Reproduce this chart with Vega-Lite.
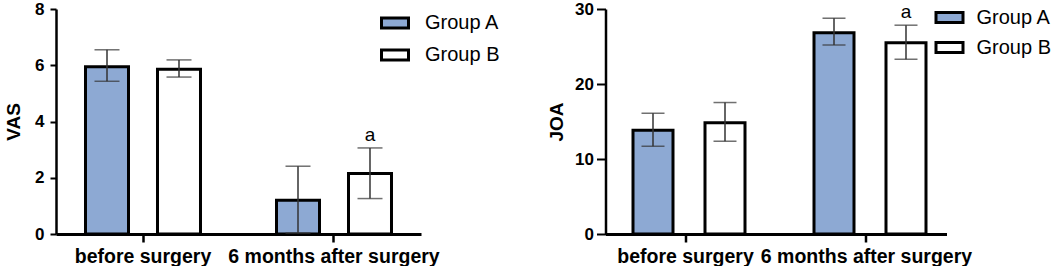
{
  "$schema": "https://vega.github.io/schema/vega-lite/v6.json",
  "padding": {"left": 4, "top": 0, "right": 0, "bottom": 0},
  "background": "white",
  "bounds": "flush",
  "spacing": 184.5,
  "datasets": {
    "d": [
      {"panel": "VAS", "time": "before surgery", "group": "Group A", "mean": 5.95, "lo": 5.43, "hi": 6.55, "sig": ""},
      {"panel": "VAS", "time": "before surgery", "group": "Group B", "mean": 5.86, "lo": 5.58, "hi": 6.19, "sig": ""},
      {"panel": "VAS", "time": "6 months after surgery", "group": "Group A", "mean": 1.2, "lo": 0.03, "hi": 2.41, "sig": ""},
      {"panel": "VAS", "time": "6 months after surgery", "group": "Group B", "mean": 2.15, "lo": 1.26, "hi": 3.06, "sig": "a"},
      {"panel": "JOA", "time": "before surgery", "group": "Group A", "mean": 13.85, "lo": 11.7, "hi": 16.1, "sig": ""},
      {"panel": "JOA", "time": "before surgery", "group": "Group B", "mean": 14.85, "lo": 12.37, "hi": 17.53, "sig": ""},
      {"panel": "JOA", "time": "6 months after surgery", "group": "Group A", "mean": 26.85, "lo": 25.2, "hi": 28.77, "sig": ""},
      {"panel": "JOA", "time": "6 months after surgery", "group": "Group B", "mean": 25.5, "lo": 23.3, "hi": 27.84, "sig": "a"}
    ]
  },
  "config": {
    "view": {"stroke": null},
    "font": "Liberation Sans",
    "axisX": {
      "domainColor": "black", "domainWidth": 3, "tickColor": "black", "tickWidth": 2.5, "tickSize": 8,
      "labelFont": "Liberation Sans", "labelFontSize": 19.5, "labelFontWeight": "bold", "labelColor": "black",
      "labelPadding": 5, "labelAngle": 0, "labelLimit": 0, "labelOverlap": false, "title": null, "grid": false
    },
    "axisY": {
      "domainColor": "black", "domainWidth": 2.5, "tickColor": "black", "tickWidth": 2,
      "labelFont": "Liberation Sans", "labelFontSize": 17, "labelFontWeight": "bold", "labelColor": "black",
      "titleFont": "Liberation Sans", "titleFontSize": 19, "titleFontWeight": "bold", "titleColor": "black",
      "grid": false
    },
    "legend": {
      "orient": "none", "title": null, "padding": 0,
      "symbolType": "M-1,-0.37H1V0.37H-1Z", "symbolSize": 729,
      "symbolStrokeColor": "black", "symbolStrokeWidth": 3,
      "labelFont": "Liberation Sans", "labelFontSize": 20, "labelColor": "black", "labelLimit": 0
    }
  },
  "resolve": {"scale": {"fill": "independent"}, "legend": {"fill": "independent"}},
  "hconcat": [
    {
      "width": 365,
      "height": 225,
      "data": {"name": "d"},
      "transform": [{"filter": "datum.panel === 'VAS'"}],
      "encoding": {
        "x": {"field": "time", "type": "nominal", "sort": ["before surgery", "6 months after surgery"],
              "scale": {"paddingInner": 0.3, "paddingOuter": 0.1055},
              "axis": {"title": null}},
        "xOffset": {"field": "group", "type": "nominal", "sort": ["Group A", "Group B"],
                    "scale": {"paddingInner": 0.4, "paddingOuter": 0.1285}}
      },
      "layer": [
        {
          "mark": {"type": "bar", "width": 43, "stroke": "black", "strokeWidth": 3},
          "encoding": {
            "y": {"field": "mean", "type": "quantitative", "scale": {"domain": [0, 8], "nice": false},
                  "axis": {"title": "VAS", "values": [0, 2, 4, 6, 8], "tickSize": 6, "labelPadding": 6, "titlePadding": 11}},
            "fill": {"field": "group", "type": "nominal",
                     "scale": {"domain": ["Group A", "Group B"], "range": ["#8DA9D3", "#FFFFFF"]},
                     "legend": {"legendX": 324, "legendY": -1, "labelOffset": 15, "rowPadding": 6}}
          }
        },
        {
          "mark": {"type": "rule", "color": "#333333", "strokeWidth": 1.5},
          "encoding": {"y": {"field": "lo", "type": "quantitative"}, "y2": {"field": "hi"}}
        },
        {
          "mark": {"type": "tick", "color": "#333333", "thickness": 1.5, "size": 25},
          "encoding": {"y": {"field": "hi", "type": "quantitative"}}
        },
        {
          "mark": {"type": "tick", "color": "#333333", "thickness": 1.5, "size": 25},
          "encoding": {"y": {"field": "lo", "type": "quantitative"}}
        },
        {
          "transform": [{"filter": "datum.sig !== ''"}],
          "mark": {"type": "text", "fontSize": 19, "color": "black", "baseline": "alphabetic", "dy": -7, "font": "Liberation Sans"},
          "encoding": {"y": {"field": "hi", "type": "quantitative"}, "text": {"field": "sig"}}
        }
      ]
    },
    {
      "width": 341,
      "height": 225,
      "data": {"name": "d"},
      "transform": [{"filter": "datum.panel === 'JOA'"}],
      "encoding": {
        "x": {"field": "time", "type": "nominal", "sort": ["before surgery", "6 months after surgery"],
              "scale": {"paddingInner": 0.3, "paddingOuter": 0.092},
              "axis": {"title": null}},
        "xOffset": {"field": "group", "type": "nominal", "sort": ["Group A", "Group B"],
                    "scale": {"paddingInner": 0.4, "paddingOuter": 0.1315}}
      },
      "layer": [
        {
          "mark": {"type": "bar", "width": 40, "stroke": "black", "strokeWidth": 3},
          "encoding": {
            "y": {"field": "mean", "type": "quantitative", "scale": {"domain": [0, 30], "nice": false},
                  "axis": {"title": "JOA", "values": [0, 10, 20, 30], "tickSize": 9, "labelPadding": 3, "titlePadding": 8}},
            "fill": {"field": "group", "type": "nominal",
                     "scale": {"domain": ["Group A", "Group B"], "range": ["#8DA9D3", "#FFFFFF"]},
                     "legend": {"legendX": 329, "legendY": -6.5, "labelOffset": 12, "rowPadding": 4}}
          }
        },
        {
          "mark": {"type": "rule", "color": "#333333", "strokeWidth": 1.5},
          "encoding": {"y": {"field": "lo", "type": "quantitative"}, "y2": {"field": "hi"}}
        },
        {
          "mark": {"type": "tick", "color": "#333333", "thickness": 1.5, "size": 23},
          "encoding": {"y": {"field": "hi", "type": "quantitative"}}
        },
        {
          "mark": {"type": "tick", "color": "#333333", "thickness": 1.5, "size": 23},
          "encoding": {"y": {"field": "lo", "type": "quantitative"}}
        },
        {
          "transform": [{"filter": "datum.sig !== ''"}],
          "mark": {"type": "text", "fontSize": 19, "color": "black", "baseline": "alphabetic", "dy": -7, "font": "Liberation Sans"},
          "encoding": {"y": {"field": "hi", "type": "quantitative"}, "text": {"field": "sig"}}
        }
      ]
    }
  ]
}
